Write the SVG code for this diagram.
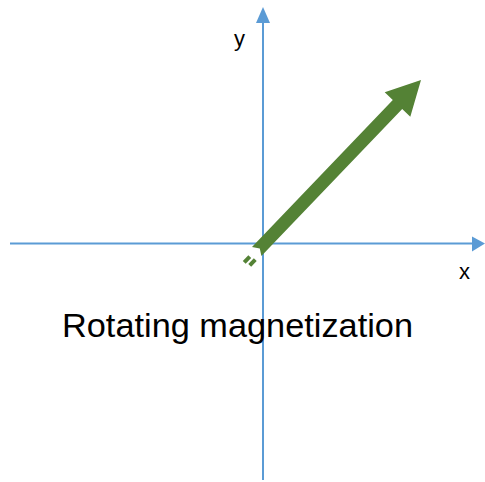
<svg xmlns="http://www.w3.org/2000/svg" width="485" height="482" viewBox="0 0 485 482">
<style>
.axis{stroke:#5B9BD5;stroke-width:2;fill:none}
.ah{fill:#5B9BD5}
.g{fill:#548235}
.t{font-family:"Liberation Sans",Arial,sans-serif;fill:#000}
</style>
<rect width="485" height="482" fill="#fff"/>
<g id="connectors">
<line class="axis" x1="10" y1="243.5" x2="474" y2="243.5"/>
<polygon class="ah" points="485,243.5 472,236.5 472,251.5"/>
<line class="axis" x1="263" y1="480" x2="263" y2="20"/>
<polygon class="ah" points="263,7 256,23 270,23"/>
</g>
<g id="vector">
<polygon class="g" points="261.4,256 402.2,109 410.3,116.7 421,80 384.7,92.3 392.8,100 252,247 259.8,248.6"/>
<polygon class="g" transform="translate(247,259.5) rotate(-46)" points="-4,-2 4,-2 4,2 -4,2"/>
<polygon class="g" transform="translate(252.5,262.5) rotate(-46)" points="-4,-2 4,-2 4,2 -4,2"/>
</g>
<g id="labels">
<text class="t" x="234" y="46" font-size="22">y</text>
<text class="t" x="459" y="279" font-size="22">x</text>
<text class="t" x="62" y="337" font-size="34" textLength="351" lengthAdjust="spacingAndGlyphs">Rotating magnetization</text>
</g>
</svg>
